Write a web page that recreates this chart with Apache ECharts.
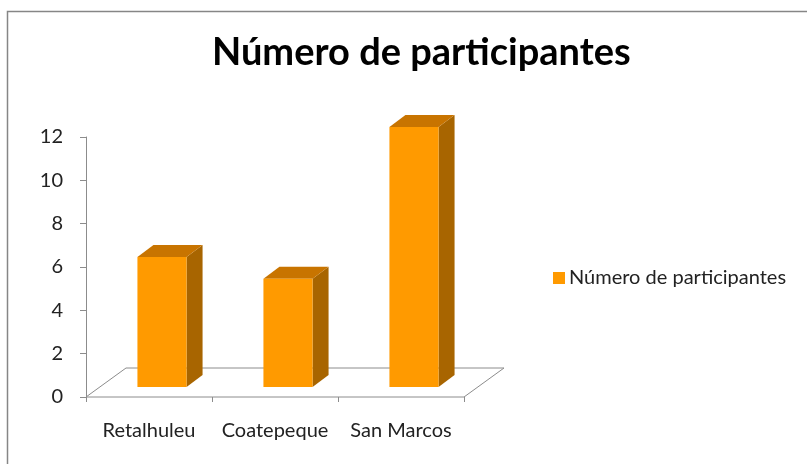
<!DOCTYPE html>
<html>
<head>
<meta charset="utf-8">
<script src="https://cdn.jsdelivr.net/npm/echarts@6/dist/echarts.min.js"></script>
<style>
  html, body { margin: 0; padding: 0; background: #fff; }
  #chart { width: 807px; height: 464px; }
</style>
</head>
<body>
<div id="chart"></div>
<script>
// datos
const categorias = ['Retalhuleu', 'Coatepeque', 'San Marcos'];
const participantes = [6, 5, 12];
const nombreSerie = 'Número de participantes';

const FONT = 'Lato';
// colores de las caras 3D
const colFrente = '#FF9A00';
const colLado = '#A86500';
const colTecho = '#C87400';

const chart = echarts.init(document.getElementById('chart'));

// profundidad del piso y de las barras
const PISO = [40, -29];
const BARRA_OFF = [13, -10];
const BARRA_PROF = [16, -12];
const BARRA_ANCHO = 0.39;

function renderPiso(params, api) {
  const band = api.size([1, 0])[0];
  const p0 = api.coord([0, 0]);
  const p1 = api.coord([categorias.length - 1, 0]);
  const xl = p0[0] - band / 2, xr = p1[0] + band / 2, y = p0[1];
  return {
    type: 'polygon',
    shape: { points: [[xl, y], [xl + PISO[0], y + PISO[1]], [xr + PISO[0], y + PISO[1]], [xr, y]] },
    style: { fill: '#fff', stroke: '#8c8c8c', lineWidth: 1 },
    z2: 0
  };
}

function renderBarra(params, api) {
  const idx = api.value(0);
  const val = api.value(1);
  const band = api.size([1, 0])[0];
  const w = band * BARRA_ANCHO;
  const base = api.coord([idx, 0]);
  const tope = api.coord([idx, val]);
  const x0 = base[0] + BARRA_OFF[0] - w / 2;
  const x1 = x0 + w;
  const yb = base[1] + BARRA_OFF[1];
  const yt = tope[1] + BARRA_OFF[1];
  const dx = BARRA_PROF[0], dy = BARRA_PROF[1];
  return {
    type: 'group',
    children: [
      { type: 'polygon', shape: { points: [[x1, yb], [x1 + dx, yb + dy], [x1 + dx, yt + dy], [x1, yt]] }, style: { fill: colLado } },
      { type: 'polygon', shape: { points: [[x0, yt], [x0 + dx, yt + dy], [x1 + dx, yt + dy], [x1, yt]] }, style: { fill: colTecho } },
      { type: 'rect', shape: { x: x0, y: yt, width: w, height: yb - yt }, style: { fill: colFrente } }
    ]
  };
}

const option = {
  animation: false,
  backgroundColor: '#fff',
  graphic: [{
    type: 'rect',
    shape: { x: 7.5, y: 11.5, width: 820, height: 480 },
    style: { fill: 'none', stroke: '#868686', lineWidth: 1.5 },
    silent: true
  }],
  title: {
    text: nombreSerie,
    left: 207,
    top: 29,
    textStyle: { fontFamily: FONT, fontWeight: 'bold', fontSize: 38, color: '#000' }
  },
  legend: {
    data: [{ name: nombreSerie, icon: 'rect' }],
    left: 548,
    top: 263,
    itemWidth: 12,
    itemHeight: 12,
    itemGap: 6,
    textStyle: { fontFamily: FONT, fontSize: 20, color: '#222', padding: [0, 0, 0, -1] }
  },
  grid: { left: 86, right: 343, top: 137, bottom: 67 },
  xAxis: {
    type: 'category',
    data: categorias,
    boundaryGap: true,
    axisLine: { show: false },
    axisTick: { show: true, length: 5, lineStyle: { color: '#8c8c8c' } },
    axisLabel: { interval: 0, margin: 24, fontFamily: FONT, fontSize: 20, color: '#222' },
    splitLine: { show: false }
  },
  yAxis: {
    type: 'value',
    min: 0,
    max: 12,
    interval: 2,
    axisLine: { show: true, lineStyle: { color: '#8c8c8c' } },
    axisTick: { show: true, length: 6, lineStyle: { color: '#8c8c8c' } },
    axisLabel: { margin: 23, fontFamily: FONT, fontSize: 20, color: '#222' },
    splitLine: { show: false }
  },
  series: [
    {
      type: 'custom',
      name: 'piso',
      silent: true,
      renderItem: renderPiso,
      data: [[0, 0]],
      z: 1
    },
    {
      type: 'custom',
      name: nombreSerie,
      renderItem: renderBarra,
      itemStyle: { color: colFrente },
      encode: { x: 0, y: 1 },
      data: participantes.map((v, i) => [i, v]),
      z: 3
    }
  ]
};

chart.setOption(option);
</script>
</body>
</html>
